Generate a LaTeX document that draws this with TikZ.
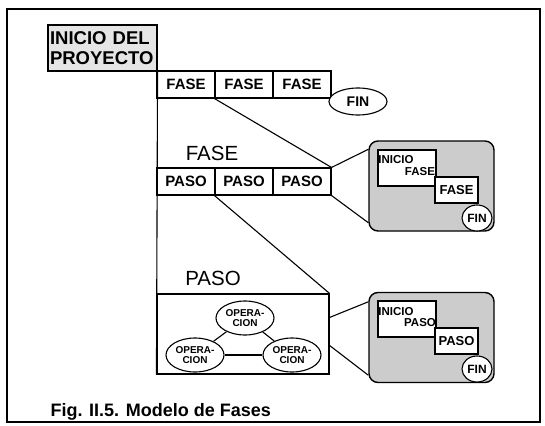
\documentclass[tikz,border=0pt]{standalone}
\usepackage{fontspec}
\setmainfont{Liberation Sans}
\usetikzlibrary{shapes.geometric,calc}
\begin{document}
\begin{tikzpicture}[x=1pt,y=-1pt,line width=1.1pt,
  every node/.style={inner sep=0pt},
  inibox/.style={draw, fill=black!10, minimum width=109pt, minimum height=46pt,
    text width=105pt, align=left, inner sep=2pt,
    font=\bfseries\fontsize{18.5}{20}\selectfont},
  cell/.style={draw, fill=white, minimum width=58pt, minimum height=27pt,
    font=\bfseries\fontsize{15}{15}\selectfont},
  endoval/.style={draw, fill=white, ellipse, minimum width=58pt, minimum height=27pt,
    font=\bfseries\fontsize{14}{14}\selectfont},
  biglabel/.style={font=\fontsize{20.5}{20.5}\selectfont},
  opnode/.style={draw, fill=white, ellipse, minimum width=58pt, minimum height=34pt,
    align=center, font=\bfseries\fontsize{10}{9.6}\selectfont},
  zoombox/.style={draw, fill=black!20, rounded corners=9pt, line width=1.4pt,
    minimum width=125pt, minimum height=90pt},
  startbox/.style={draw, fill=white, minimum width=58pt, minimum height=36pt},
  stepcell/.style={draw, fill=white, minimum width=43pt, minimum height=26pt,
    font=\bfseries\fontsize{13}{13}\selectfont},
  smallfin/.style={draw, fill=white, ellipse, minimum width=30pt, minimum height=26pt,
    font=\bfseries\fontsize{12}{12}\selectfont},
  smalltxt/.style={font=\bfseries\fontsize{11.5}{11.5}\selectfont}]

\useasboundingbox (0,0) rectangle (545,425);
% outer frame
\draw[line width=1.8pt] (7,9) rectangle (540,422);

% project start
\node[inibox] (ini) at (102.5,48) {INICIO DEL\\PROYECTO};

% phases of the project
\node[cell] (f1) at (186,84.5) {FASE};
\node[cell] (f2) at (244,84.5) {FASE};
\node[cell] (f3) at (302,84.5) {FASE};
\node[endoval] (fin) at (358,101.5) {FIN};

% one phase, split into steps
\node[biglabel] (lf) at (212,153) {FASE};
\node[cell] (p1) at (186,181.5) {PASO};
\node[cell] (p2) at (244,181.5) {PASO};
\node[cell] (p3) at (302,181.5) {PASO};

% one step, split into operations
\node[biglabel] (lp) at (213,278) {PASO};
\node[draw, minimum width=172pt, minimum height=80pt] (pbox) at (243,334) {};
\node[opnode] (o1) at (245,318) {OPERA-\\CION};
\node[opnode] (o2) at (195,355) {OPERA-\\CION};
\node[opnode] (o3) at (292,355) {OPERA-\\CION};
\draw (o1) -- (o2);
\draw (o2) -- (o3);
\draw (o1) -- (o3);

% spine and expansion lines
\draw (ini.south east) -- (pbox.south west);
\draw (f2.south west) -- (p3.north east);
\draw (p2.south west) -- (pbox.north east);

% structure of a phase
\node[zoombox] (zf) at (431.5,186) {};
\coordinate (zfa) at ($(zf.north west)+(0,9)$);
\coordinate (zfb) at ($(zf.south west)+(0,-9)$);
\node[startbox] (zf1) at (407,168) {};
\node[smalltxt] (zf1a) at (396,160) {INICIO};
\node[smalltxt] (zf1b) at (420,172) {FASE};
\node[stepcell] (zf2) at (456.5,190) {FASE};
\node[smallfin] (zf3) at (477,218) {FIN};
\draw (p3.north east) -- (zfa);
\draw (p3.south east) -- (zfb);

% structure of a step
\node[zoombox] (zp) at (431.5,337.5) {};
\coordinate (zpa) at ($(zp.north west)+(0,10)$);
\coordinate (zpb) at ($(zp.south west)+(0,-8)$);
\node[startbox] (zp1) at (407,319) {};
\node[smalltxt] (zp1a) at (396,312) {INICIO};
\node[smalltxt] (zp1b) at (420,323) {PASO};
\node[stepcell] (zp2) at (456.5,341) {PASO};
\node[smallfin] (zp3) at (477,369) {FIN};
\coordinate (pe1) at ($(pbox.north east)+(0,24)$);
\coordinate (pe2) at ($(pbox.north east)+(0,52)$);
\draw (pe1) -- (zpa);
\draw (pe2) -- (zpb);

% caption
\node[anchor=base west, font=\bfseries\fontsize{18}{18}\selectfont] (cap) at (50,416) {Fig. II.5. Modelo de Fases};
\end{tikzpicture}
\end{document}
